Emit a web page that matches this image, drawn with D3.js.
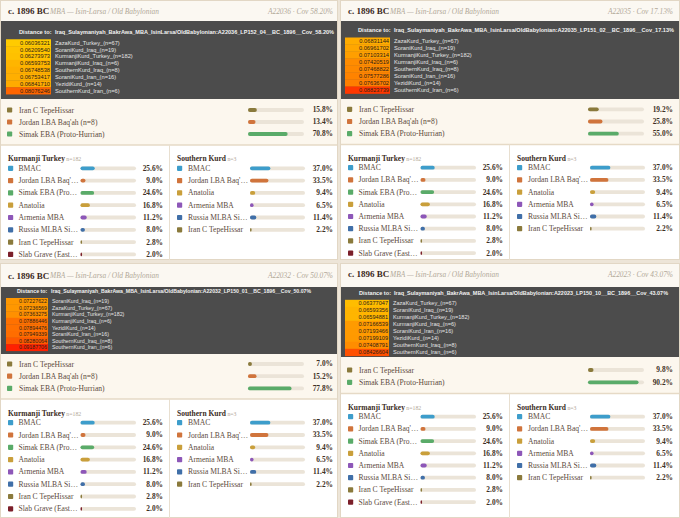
<!DOCTYPE html>
<html>
<head>
<meta charset="utf-8">
<script src="https://cdn.jsdelivr.net/npm/d3@7"></script>
<style>
  body { margin: 0; background: #ede5d8; }
  svg { display: block; }
  .serif { font-family: "Liberation Serif", "DejaVu Serif", serif; }
  .sans { font-family: "Liberation Sans", Arial, sans-serif; }
</style>
</head>
<body>
<svg id="chart" width="680" height="518"></svg>
<script>
// ---- data ----
const sampleIds = ['A22036', 'A22035', 'A22032', 'A22023'];
const lpCodes = ['LP152_04', 'LP151_02', 'LP150_01', 'LP150_10'];
const coverage = ['58.20%', '17.13%', '50.07%', '43.07%'];
const period = 'c. 1896 BC';
const culture = 'MBA — Isin-Larsa / Old Babylonian';

const distPops = [
    ['ZazaKurd_Turkey_(n=67)', 'SoraniKurd_Iraq_(n=19)', 'KurmanjiKurd_Turkey_(n=182)', 'KurmanjiKurd_Iraq_(n=6)',
     'SouthernKurd_Iraq_(n=8)', 'SoraniKurd_Iran_(n=16)', 'YezidiKurd_(n=14)', 'SouthernKurd_Iran_(n=6)'],
    ['ZazaKurd_Turkey_(n=67)', 'SoraniKurd_Iraq_(n=19)', 'KurmanjiKurd_Turkey_(n=182)', 'KurmanjiKurd_Iraq_(n=6)',
     'SouthernKurd_Iraq_(n=8)', 'SoraniKurd_Iran_(n=16)', 'YezidiKurd_(n=14)', 'SouthernKurd_Iran_(n=6)'],
    ['SoraniKurd_Iraq_(n=19)', 'ZazaKurd_Turkey_(n=67)', 'KurmanjiKurd_Turkey_(n=182)', 'KurmanjiKurd_Iraq_(n=6)',
     'YezidiKurd_(n=14)', 'SoraniKurd_Iran_(n=16)', 'SouthernKurd_Iraq_(n=8)', 'SouthernKurd_Iran_(n=6)'],
    ['ZazaKurd_Turkey_(n=67)', 'SoraniKurd_Iraq_(n=19)', 'KurmanjiKurd_Turkey_(n=182)', 'KurmanjiKurd_Iraq_(n=6)',
     'SoraniKurd_Iran_(n=16)', 'YezidiKurd_(n=14)', 'SouthernKurd_Iraq_(n=8)', 'SouthernKurd_Iran_(n=6)'],
];
const distValues = [
    [0.06036321, 0.06209540, 0.06273973, 0.06593753, 0.06748538, 0.06753417, 0.06841710, 0.08076246],
    [0.06831144, 0.06961702, 0.07103314, 0.07420519, 0.07468822, 0.07577286, 0.07636702, 0.08823739],
    [0.07227622, 0.07236569, 0.07363275, 0.07886446, 0.07894476, 0.07949339, 0.08280064, 0.09187706],
    [0.06377047, 0.06593356, 0.06594881, 0.07166539, 0.07193466, 0.07199109, 0.07408791, 0.08426604],
];

const sourceNames = [
    ['Iran C TepeHissar', "Jordan LBA Baq'ah (n=8)", 'Simak EBA (Proto-Hurrian)'],
    ['Iran C TepeHissar', "Jordan LBA Baq'ah (n=8)", 'Simak EBA (Proto-Hurrian)'],
    ['Iran C TepeHissar', "Jordan LBA Baq'ah (n=8)", 'Simak EBA (Proto-Hurrian)'],
    ['Iran C TepeHissar', 'Simak EBA (Proto-Hurrian)'],
];
const sourceValues = [
    [15.8, 13.4, 70.8],
    [19.2, 25.8, 55.0],
    [7.0, 15.2, 77.8],
    [9.8, 90.2],
];

const kurmanjiLabels = ['BMAC', "Jordan LBA Baq'…", 'Simak EBA (Pro…', 'Anatolia', 'Armenia MBA',
                        'Russia MLBA Si…', 'Iran C TepeHissar', 'Slab Grave (East…'];
const kurmanjiValues = [25.6, 9.0, 24.6, 16.8, 11.2, 8.0, 2.8, 2.0];
const southernLabels = ['BMAC', "Jordan LBA Baq'…", 'Anatolia', 'Armenia MBA', 'Russia MLBA Si…', 'Iran C TepeHissar'];
const southernValues = [37.0, 33.5, 9.4, 6.5, 11.4, 2.2];

// ---- styling ----
const popColor = {
    'BMAC': '#3d9dcb',
    'Jordan': '#d0743c',
    'Simak': '#5aab69',
    'Anatolia': '#c99f3b',
    'Armenia': '#8d57b8',
    'Russia': '#406fa8',
    'Iran': '#8a7a3c',
    'Slab': '#7b1f2a',
};
const colorOf = (name) => popColor[name.split(' ')[0]] || '#999';

const heat = d3.scaleLinear()
    .domain([0.06, 0.07, 0.08, 0.092])
    .range(['#ffcc00', '#ffa500', '#ff6a00', '#ff2000']);

// panel layout (pixels)
const panels = [
    { x: 0, w: 338, top: 0, bottom: 260, head: 11, darkTop: 21, darkBot: 99, dist: 32,
      row0: 42.7, rowH: 6.86, fs: 5.7, toX: 19, name: [55, 334], heat: [6, 51],
      src0: 110, srcH: 12, border: 145, title: 156, card0: 168.3, cardH: 12.3 },
    { x: 340, w: 340, top: 0, bottom: 260, head: 11, darkTop: 21, darkBot: 99, dist: 30.5,
      row0: 41, rowH: 7.0, fs: 5.7, toX: 18, name: [54, 334], heat: [5, 50],
      src0: 109.3, srcH: 12.2, border: 144.5, title: 156, card0: 167.7, cardH: 12.2 },
    { x: 0, w: 338, top: 263, bottom: 518, head: 275.7, darkTop: 287, darkBot: 354, dist: 291.5,
      row0: 301.3, rowH: 6.6, fs: 5.3, toX: 17, name: [51, 311], heat: [6, 48],
      src0: 364, srcH: 12.2, border: 399, title: 410.7, card0: 422.7, cardH: 12.3 },
    { x: 340, w: 340, top: 263, bottom: 518, head: 274, darkTop: 287, darkBot: 357, dist: 293.3,
      row0: 303.3, rowH: 7.0, fs: 5.6, toX: 19, name: [54, 328], heat: [5, 49],
      src0: 370, srcH: 12.3, border: 393.5, title: 405, card0: 416.7, cardH: 12.2 },
];

const svg = d3.select('#chart');

function bars(g, labels, values, o) {
    const x = d3.scaleLinear().domain([0, 100]).range([o.bar0, o.bar1]);
    const y = (i) => o.y0 + i * o.step;
    const row = g.selectAll(null).data(labels).enter().append('g');

    row.append('rect')
        .attr('x', o.sw).attr('y', (d, i) => y(i) - 2.6)
        .attr('width', 5.2).attr('height', 5.2).attr('rx', 0.8)
        .attr('fill', (d) => colorOf(d));
    row.append('text')
        .attr('class', 'serif')
        .attr('x', o.label).attr('y', (d, i) => y(i)).attr('dy', '0.33em')
        .attr('font-size', 7.6).attr('fill', '#5c4b3c')
        .text((d) => d);
    row.append('rect')
        .attr('x', o.bar0).attr('y', (d, i) => y(i) - 1.9)
        .attr('width', o.bar1 - o.bar0).attr('height', 3.8).attr('rx', 1.9)
        .attr('fill', '#ebe4d8');
    row.append('rect')
        .attr('x', o.bar0).attr('y', (d, i) => y(i) - 1.9)
        .attr('width', (d, i) => Math.max(x(values[i]) - o.bar0, 1.6)).attr('height', 3.8).attr('rx', 1.9)
        .attr('fill', (d) => colorOf(d));
    row.append('text')
        .attr('class', 'serif')
        .attr('x', o.value).attr('y', (d, i) => y(i)).attr('dy', '0.33em')
        .attr('text-anchor', 'end').attr('font-size', 7.4).attr('font-weight', 'bold')
        .attr('fill', '#3d3025')
        .text((d, i) => values[i].toFixed(1) + '%');
}

function card(g, title, n, labels, values, o, p) {
    const t = g.append('text').attr('class', 'serif')
        .attr('x', o.titleX).attr('y', p.title).attr('dy', '0.33em');
    t.append('tspan').attr('font-size', 7.5).attr('font-weight', 'bold').attr('fill', '#3b2c1e').text(title);
    t.append('tspan').attr('font-size', 5.8).attr('fill', '#b3a898').text(' n=' + n);
    bars(g, labels, values, { ...o, y0: p.card0, step: p.cardH });
}

panels.forEach((p, k) => {
    const g = svg.append('g').attr('transform', `translate(${p.x},0)`);

    // panel body
    g.append('rect')
        .attr('x', 0.5).attr('y', p.top + 0.5)
        .attr('width', p.w - 1).attr('height', p.bottom - p.top - 1)
        .attr('fill', '#ffffff').attr('stroke', '#e2d7c5');

    // header
    g.append('rect')
        .attr('x', 1).attr('y', p.top + 1)
        .attr('width', p.w - 2).attr('height', p.darkTop - p.top - 1)
        .attr('fill', '#fbf8f2');
    g.append('text').attr('class', 'serif')
        .attr('x', 8).attr('y', p.head).attr('dy', '0.35em')
        .attr('font-size', 9).attr('font-weight', 'bold').attr('fill', '#3b2a1c')
        .text(period);
    g.append('text').attr('class', 'serif')
        .attr('x', 50).attr('y', p.head).attr('dy', '0.35em')
        .attr('font-size', 7.4).attr('font-style', 'italic').attr('fill', '#b2a999')
        .text(culture);
    g.append('text').attr('class', 'serif')
        .attr('x', 333).attr('y', p.head).attr('dy', '0.35em')
        .attr('text-anchor', 'end')
        .attr('font-size', 7.4).attr('font-style', 'italic').attr('fill', '#b2a999')
        .text(`${sampleIds[k]} · Cov ${coverage[k]}`);

    // distance box
    g.append('rect')
        .attr('x', 1).attr('y', p.darkTop)
        .attr('width', p.w - 2).attr('height', p.darkBot - p.darkTop)
        .attr('fill', '#4c4c4c');
    g.append('text').attr('class', 'sans')
        .attr('x', p.toX).attr('y', p.dist).attr('dy', '0.35em')
        .attr('font-size', p.fs).attr('font-weight', 'bold').attr('fill', '#f2f2f2')
        .text('Distance to:');
    g.append('text').attr('class', 'sans')
        .attr('x', p.name[0]).attr('y', p.dist).attr('dy', '0.35em')
        .attr('font-size', p.fs).attr('font-weight', 'bold').attr('fill', '#f2f2f2')
        .attr('textLength', p.name[1] - p.name[0]).attr('lengthAdjust', 'spacingAndGlyphs')
        .text(`Iraq_Sulaymaniyah_BakrAwa_MBA_IsinLarsa/OldBabylonian:${sampleIds[k]}_${lpCodes[k]}__BC_1896__Cov_${coverage[k]}`);

    const ry = d3.scaleLinear().domain([0, 1]).range([p.row0, p.row0 + p.rowH]);
    const drow = g.selectAll(null).data(distValues[k]).enter().append('g');
    drow.append('rect')
        .attr('x', p.heat[0]).attr('y', (d, i) => ry(i) - p.rowH / 2)
        .attr('width', p.heat[1] - p.heat[0]).attr('height', p.rowH + 0.3)
        .attr('fill', (d) => heat(d));
    drow.append('text').attr('class', 'sans')
        .attr('x', p.heat[1] - 1).attr('y', (d, i) => ry(i)).attr('dy', '0.35em')
        .attr('text-anchor', 'end').attr('font-size', p.fs).attr('fill', '#2b2118')
        .text((d) => d.toFixed(8));
    drow.append('text').attr('class', 'sans')
        .attr('x', p.heat[1] + 4).attr('y', (d, i) => ry(i)).attr('dy', '0.35em')
        .attr('font-size', p.fs).attr('fill', '#e4e4e4')
        .text((d, i) => distPops[k][i]);

    // sources
    g.append('rect')
        .attr('x', 1).attr('y', p.darkBot)
        .attr('width', p.w - 2).attr('height', p.border - p.darkBot)
        .attr('fill', '#fcf7ee');
    g.append('line')
        .attr('x1', 1).attr('x2', p.w - 1).attr('y1', p.border).attr('y2', p.border)
        .attr('stroke', '#e6dac6').attr('stroke-width', 1.5);
    bars(g, sourceNames[k], sourceValues[k],
         { sw: 7, label: 19, bar0: 248, bar1: 304, value: 333, y0: p.src0, step: p.srcH });

    // breakdown cards
    g.append('line')
        .attr('x1', 169.5).attr('x2', 169.5).attr('y1', p.border).attr('y2', p.bottom)
        .attr('stroke', '#e8dfd0');
    card(g, 'Kurmanji Turkey', 182, kurmanjiLabels, kurmanjiValues,
         { titleX: 8, sw: 8, label: 18.5, bar0: 80.5, bar1: 136, value: 163 }, p);
    card(g, 'Southern Kurd', 3, southernLabels, southernValues,
         { titleX: 177, sw: 177, label: 188, bar0: 250, bar1: 305, value: 333 }, p);
});
</script>
</body>
</html>
